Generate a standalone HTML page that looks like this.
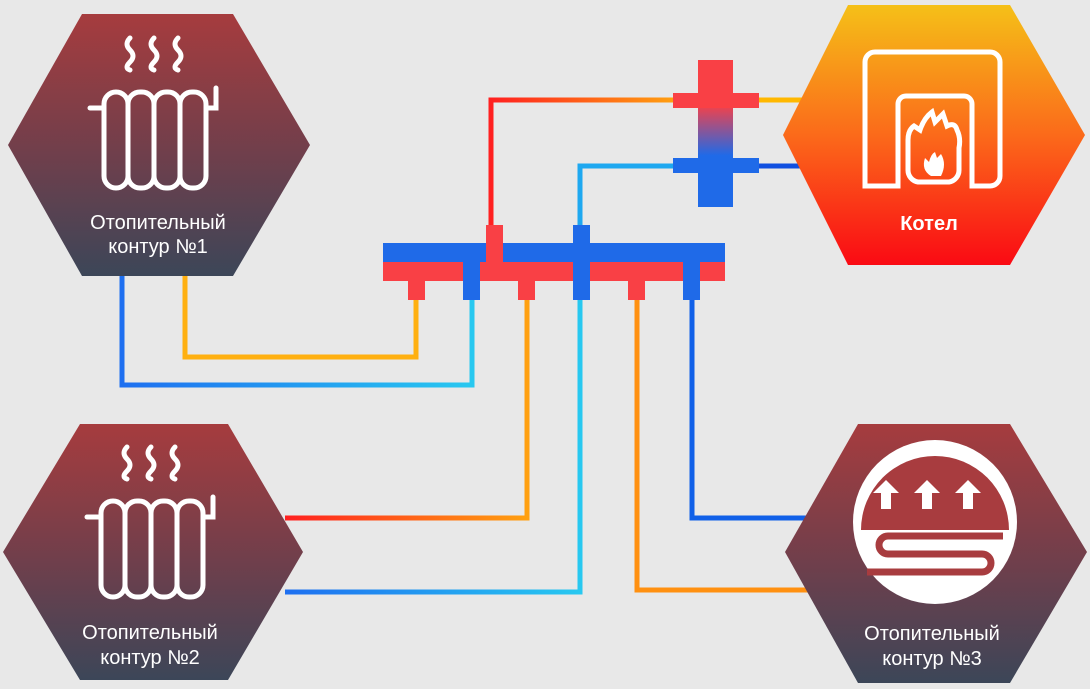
<!DOCTYPE html>
<html><head><meta charset="utf-8"><style>
html,body{margin:0;padding:0;background:#e8e8e8;width:1090px;height:689px;overflow:hidden}
text{font-family:"Liberation Sans",sans-serif;fill:#fff;font-size:20px;text-anchor:middle}
</style></head><body>
<svg width="1090" height="689" viewBox="0 0 1090 689" xmlns="http://www.w3.org/2000/svg">
<defs>
<linearGradient id="hx" x1="0" y1="0" x2="0" y2="1"><stop offset="0" stop-color="#a63c3e"/><stop offset="0.55" stop-color="#6e3f4c"/><stop offset="1" stop-color="#3c4658"/></linearGradient>
<linearGradient id="bo" x1="0" y1="0" x2="0" y2="1"><stop offset="0" stop-color="#f5c018"/><stop offset="0.5" stop-color="#fb6a1a"/><stop offset="1" stop-color="#fa0a14"/></linearGradient>
<linearGradient id="cr" x1="0" y1="0" x2="0" y2="1"><stop offset="0.3" stop-color="#f94045"/><stop offset="0.65" stop-color="#1f6ae8"/></linearGradient>
<linearGradient id="ho" x1="0" y1="0" x2="1" y2="0"><stop offset="0" stop-color="#ff2020"/><stop offset="1" stop-color="#ffa010"/></linearGradient>
<linearGradient id="co" x1="0" y1="0" x2="1" y2="0"><stop offset="0" stop-color="#1e6ff0"/><stop offset="1" stop-color="#28c8f0"/></linearGradient>
</defs>

<g fill="none" stroke-width="5" stroke-linejoin="miter">
<polyline points="491,228 491,100 675,100" stroke="url(#ho)"/>
<polyline points="580,228 580,166 675,166" stroke="#1ea8f0"/>
<line x1="757" y1="100" x2="810" y2="100" stroke="#ffb800"/>
<line x1="757" y1="166" x2="810" y2="166" stroke="#1050e0"/>
<polyline points="185,276 185,357 416,357 416,298" stroke="#ffb010"/>
<polyline points="122,276 122,385 472,385 472,298" stroke="url(#co)"/>
<polyline points="285,518 527,518 527,298" stroke="url(#ho)"/>
<polyline points="285,592 580,592 580,298" stroke="url(#co)"/>
<polyline points="637,298 637,590 810,590" stroke="#ff9010"/>
<polyline points="692,298 692,518 810,518" stroke="#1060e8"/>
</g>

<g>
<rect x="383" y="243" width="342" height="19" fill="#1f6ae8"/>
<rect x="383" y="262" width="342" height="19" fill="#f94045"/>
<rect x="486" y="225" width="17" height="37" fill="#f94045"/>
<rect x="573" y="225" width="17" height="75" fill="#1f6ae8"/>
<rect x="408" y="262" width="17" height="38" fill="#f94045"/>
<rect x="463" y="262" width="17" height="38" fill="#1f6ae8"/>
<rect x="518" y="262" width="17" height="38" fill="#f94045"/>
<rect x="628" y="262" width="17" height="38" fill="#f94045"/>
<rect x="683" y="262" width="17" height="38" fill="#1f6ae8"/>
<rect x="698" y="60" width="35" height="147" fill="url(#cr)"/>
<rect x="673" y="93" width="86" height="15" fill="#f94045"/>
<rect x="673" y="158" width="86" height="15" fill="#1f6ae8"/>
</g>

<polygon points="82,14 233,14 310,145 233,276 82,276 8,145" fill="url(#hx)"/>
<polygon points="80,424 228,424 303,552 228,680 80,680 3,552" fill="url(#hx)"/>
<polygon points="858,424 1010,424 1087,552 1010,683 858,683 785,552" fill="url(#hx)"/>
<polygon points="848,5 1010,5 1085,135 1010,265 848,265 783,135" fill="url(#bo)"/>

<g fill="none" stroke="#fff" stroke-width="5" stroke-linecap="round">
<g id="rad">
<path d="M130 38 q-6 6 0 12 q6 6 0 12 q-6 6 0 8"/>
<path d="M154 38 q-6 6 0 12 q6 6 0 12 q-6 6 0 8"/>
<path d="M178 38 q-6 6 0 12 q6 6 0 12 q-6 6 0 8"/>
<path d="M90 108 h14"/>
<path d="M206 108 h10 v-20"/>
<rect x="104" y="92" width="24" height="96" rx="12"/>
<rect x="128" y="92" width="26" height="96" rx="12"/>
<rect x="154" y="92" width="26" height="96" rx="12"/>
<rect x="180" y="92" width="26" height="96" rx="12"/>
</g>
<use href="#rad" transform="translate(-3,409)"/>
<path d="M865 186 V62 a10 10 0 0 1 10 -10 H990 a10 10 0 0 1 10 10 V176 a10 10 0 0 1 -10 10 H972 V104 a8 8 0 0 0 -8 -8 H906 a8 8 0 0 0 -8 8 V186 Z"/>
<path d="M918 182 a12 12 0 0 1 -10 -12 V140 q0 -10 6 -14 l6 4 q4 -12 12 -18 l3 10 l8 -8 l4 12 q8 -4 10 4 q4 8 2 18 V170 a12 12 0 0 1 -10 12 Z"/>
</g>
<path d="M931 176 q-10 -6 -6 -18 l4 4 q2 -8 6 -10 l2 6 l4 -4 q6 10 0 22 Z" fill="#fff"/>

<!-- floor heating -->
<circle cx="935" cy="522" r="82" fill="#fff"/>
<path d="M861 530 A74 74 0 0 1 1009 530 Z" fill="#a83c3f"/>
<path d="M1003 536 H888 a9 9 0 0 0 0 18 H982 a9 9 0 0 1 0 18 H867" fill="none" stroke="#a83c3f" stroke-width="7"/>
<g fill="#fff">
<path d="M886 480 l-13 13 h8 v16 h10 v-16 h8 Z"/>
<path d="M927 480 l-13 13 h8 v16 h10 v-16 h8 Z"/>
<path d="M968 480 l-13 13 h8 v16 h10 v-16 h8 Z"/>
</g>

<text x="158" y="229">Отопительный</text>
<text x="158" y="253">контур  №1</text>
<text x="150" y="639">Отопительный</text>
<text x="150" y="664">контур  №2</text>
<text x="932" y="640">Отопительный</text>
<text x="932" y="665">контур  №3</text>
<text x="929" y="230" font-weight="bold">Котел</text>
</svg>
</body></html>
